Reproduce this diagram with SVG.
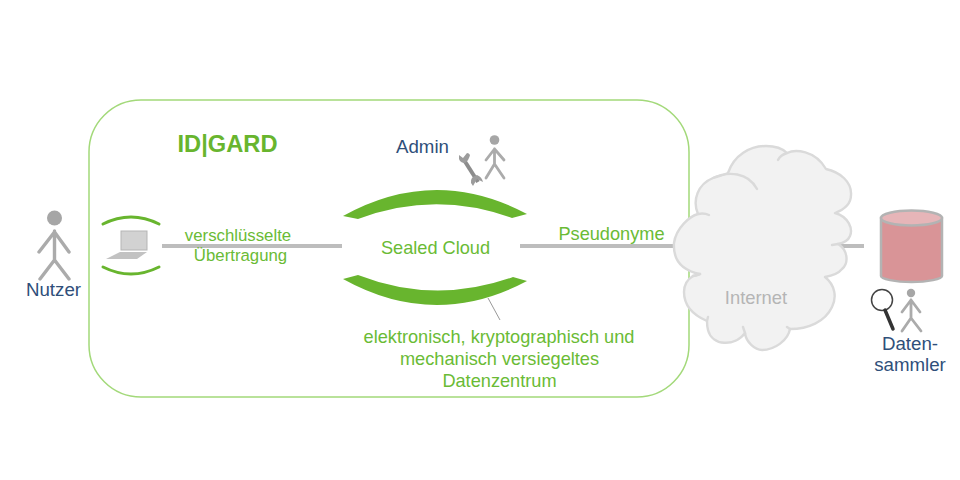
<svg xmlns="http://www.w3.org/2000/svg" width="960" height="480" viewBox="0 0 960 480">
<style>
text{font-family:"Liberation Sans",Arial,sans-serif}
.g{fill:#6abb35;font-size:18.2px;text-anchor:middle}
.n{fill:#2f4f7a;font-size:18.7px;text-anchor:middle}
.p{fill:none;stroke:#ababab;stroke-width:3.4;stroke-linecap:round;stroke-linejoin:round}
.ps{fill:none;stroke:#ababab;stroke-width:2.8;stroke-linecap:round;stroke-linejoin:round}
.c{fill:none;stroke:#bdbdbd;stroke-width:4}
.arc{fill:#68b52e}
.cl{fill:none;stroke:#dadada;stroke-width:2.4;stroke-linecap:round}
</style>
<rect width="960" height="480" fill="#fff"/>
<g id="idgard-frame"><rect x="89" y="100" width="600" height="297" rx="52" fill="#fff" stroke="#a3d97a" stroke-width="1.5"/>
<text x="227.500" y="152" style="font-size:23.700px;font-weight:bold;text-anchor:middle;fill:#68b52e">ID|GARD</text></g>
<g id="connectors">
<path class="c" d="M162 246H342M520 246H690M830 246H864"/>
<path d="M488 298L500 320" fill="none" stroke="#999" stroke-width="1"/>
</g>
<g id="nutzer"><circle cx="54.500" cy="218" r="7.500" fill="#a6a6a6"/><path class="p" d="M54.500 231V260M39 252L54.500 232L69 252M40 279L54.500 260L69 279"/><text class="n" x="53.500" y="296">Nutzer</text></g>
<g id="laptop">
<path d="M103 224Q131 210 159 224" fill="none" stroke="#68b52e" stroke-width="3" stroke-linecap="round"/>
<path d="M103 267Q131 281 159 267" fill="none" stroke="#68b52e" stroke-width="3" stroke-linecap="round"/>
<rect x="121" y="231" width="26" height="19" fill="#d2d2d2" stroke="#b5b5b5" stroke-width="1"/>
<path d="M120 252H147L137 259H106Z" fill="#c2c2c2"/>
</g>
<g id="uebertragung-label"><text class="g" x="238" y="240.500" style="font-size:16.800px">verschlüsselte</text><text class="g" x="240.500" y="261" style="font-size:16.800px">Übertragung</text></g>
<g id="sealed-cloud">
<path class="arc" d="M343 216Q435 165 527 214L512 218Q435 190 358 219Z"/>
<path class="arc" d="M343 279Q435 330 527 281L513 277Q435 305 358 275Z"/>
<text class="g" x="435.500" y="253.500">Sealed Cloud</text>
</g>
<g id="admin"><text class="n" x="422.500" y="153">Admin</text>
<circle cx="494.500" cy="140" r="4.800" fill="#a6a6a6"/><path class="ps" d="M494.500 149V164M486 160L494.500 149L504 160M486 178L494.500 164L504 178"/>
<path d="M464 160L478 182" stroke="#8c8c8c" stroke-width="4" fill="none"/>
<path d="M467 153L463 158L459 155Q458 163 465 163Q469 160 470 155Q469 153 467 153ZM473 186L477 179L483 182Q482 177 477 175Q470 177 471 183Z" fill="#9c9c9c"/></g>
<g id="versiegelt-label"><text class="g" x="499" y="343">elektronisch, kryptographisch und</text><text class="g" x="499.500" y="365">mechanisch versiegeltes</text><text class="g" x="499.500" y="387">Datenzentrum</text></g>
<g id="pseudonyme-label"><text class="g" x="611.500" y="240">Pseudonyme</text></g>
<g id="internet">
<path d="M700 274C680 270 673 258 674 243C676 228 690 216 698 214C692 200 698 184 713 178C718 176 724 175 728 173C734 155 750 146 766 146C775 146 783 149 787 153C795 149 815 150 826 169C840 172 852 182 851 195C851 204 843 210 835 213C849 217 853 229 850 236C848 241 843 243 838 244C848 250 849 263 842 269C838 274 831 276 825 277C835 285 837 297 832 307C825 322 808 329 790 329C788 340 775 350 762 350C755 350 746 342 745 333C735 347 712 346 708 330C707 326 707 323 707 321C693 315 684 305 684 292C684 285 688 279 693 276Z" fill="#f2f2f2" stroke="#dadada" stroke-width="2.400" stroke-linejoin="round"/>
<path class="cl" d="M698 214C702 213 705 213 709 215M713 178C728 171 748 172 757 189M778 160C780 156 784 154 787 153M838 244L832 245M790 329L787 327M745 333L743 327M707 321L708 317M693 276C697 275 697 276 700 274"/>
<text x="756" y="303.500" style="font-size:18.400px;fill:#b5b5b5;text-anchor:middle">Internet</text>
</g>
<g id="datenbank">
<path d="M881 218V276C881 279 895 282 911.500 282C928 282 942 279 942 276V218Z" fill="#d99497" stroke="#b3b3b3" stroke-width="2.500"/>
<ellipse cx="911.500" cy="218" rx="30.500" ry="7.500" fill="#e6b5b8" stroke="#b3b3b3" stroke-width="2.500"/>
</g>
<g id="datensammler">
<circle cx="882" cy="300" r="10.500" fill="#fff" stroke="#444" stroke-width="1.500"/>
<path d="M885 310L893 329" stroke="#333" stroke-width="3.500" stroke-linecap="round" fill="none"/>
<circle cx="911" cy="293" r="4.200" fill="#a6a6a6"/><path class="ps" d="M911 300V318M902 312L911 300L920 312M902 331L911 318L921 331"/>
<text class="n" x="910" y="350">Daten-</text><text class="n" x="910" y="371">sammler</text>
</g>
</svg>
